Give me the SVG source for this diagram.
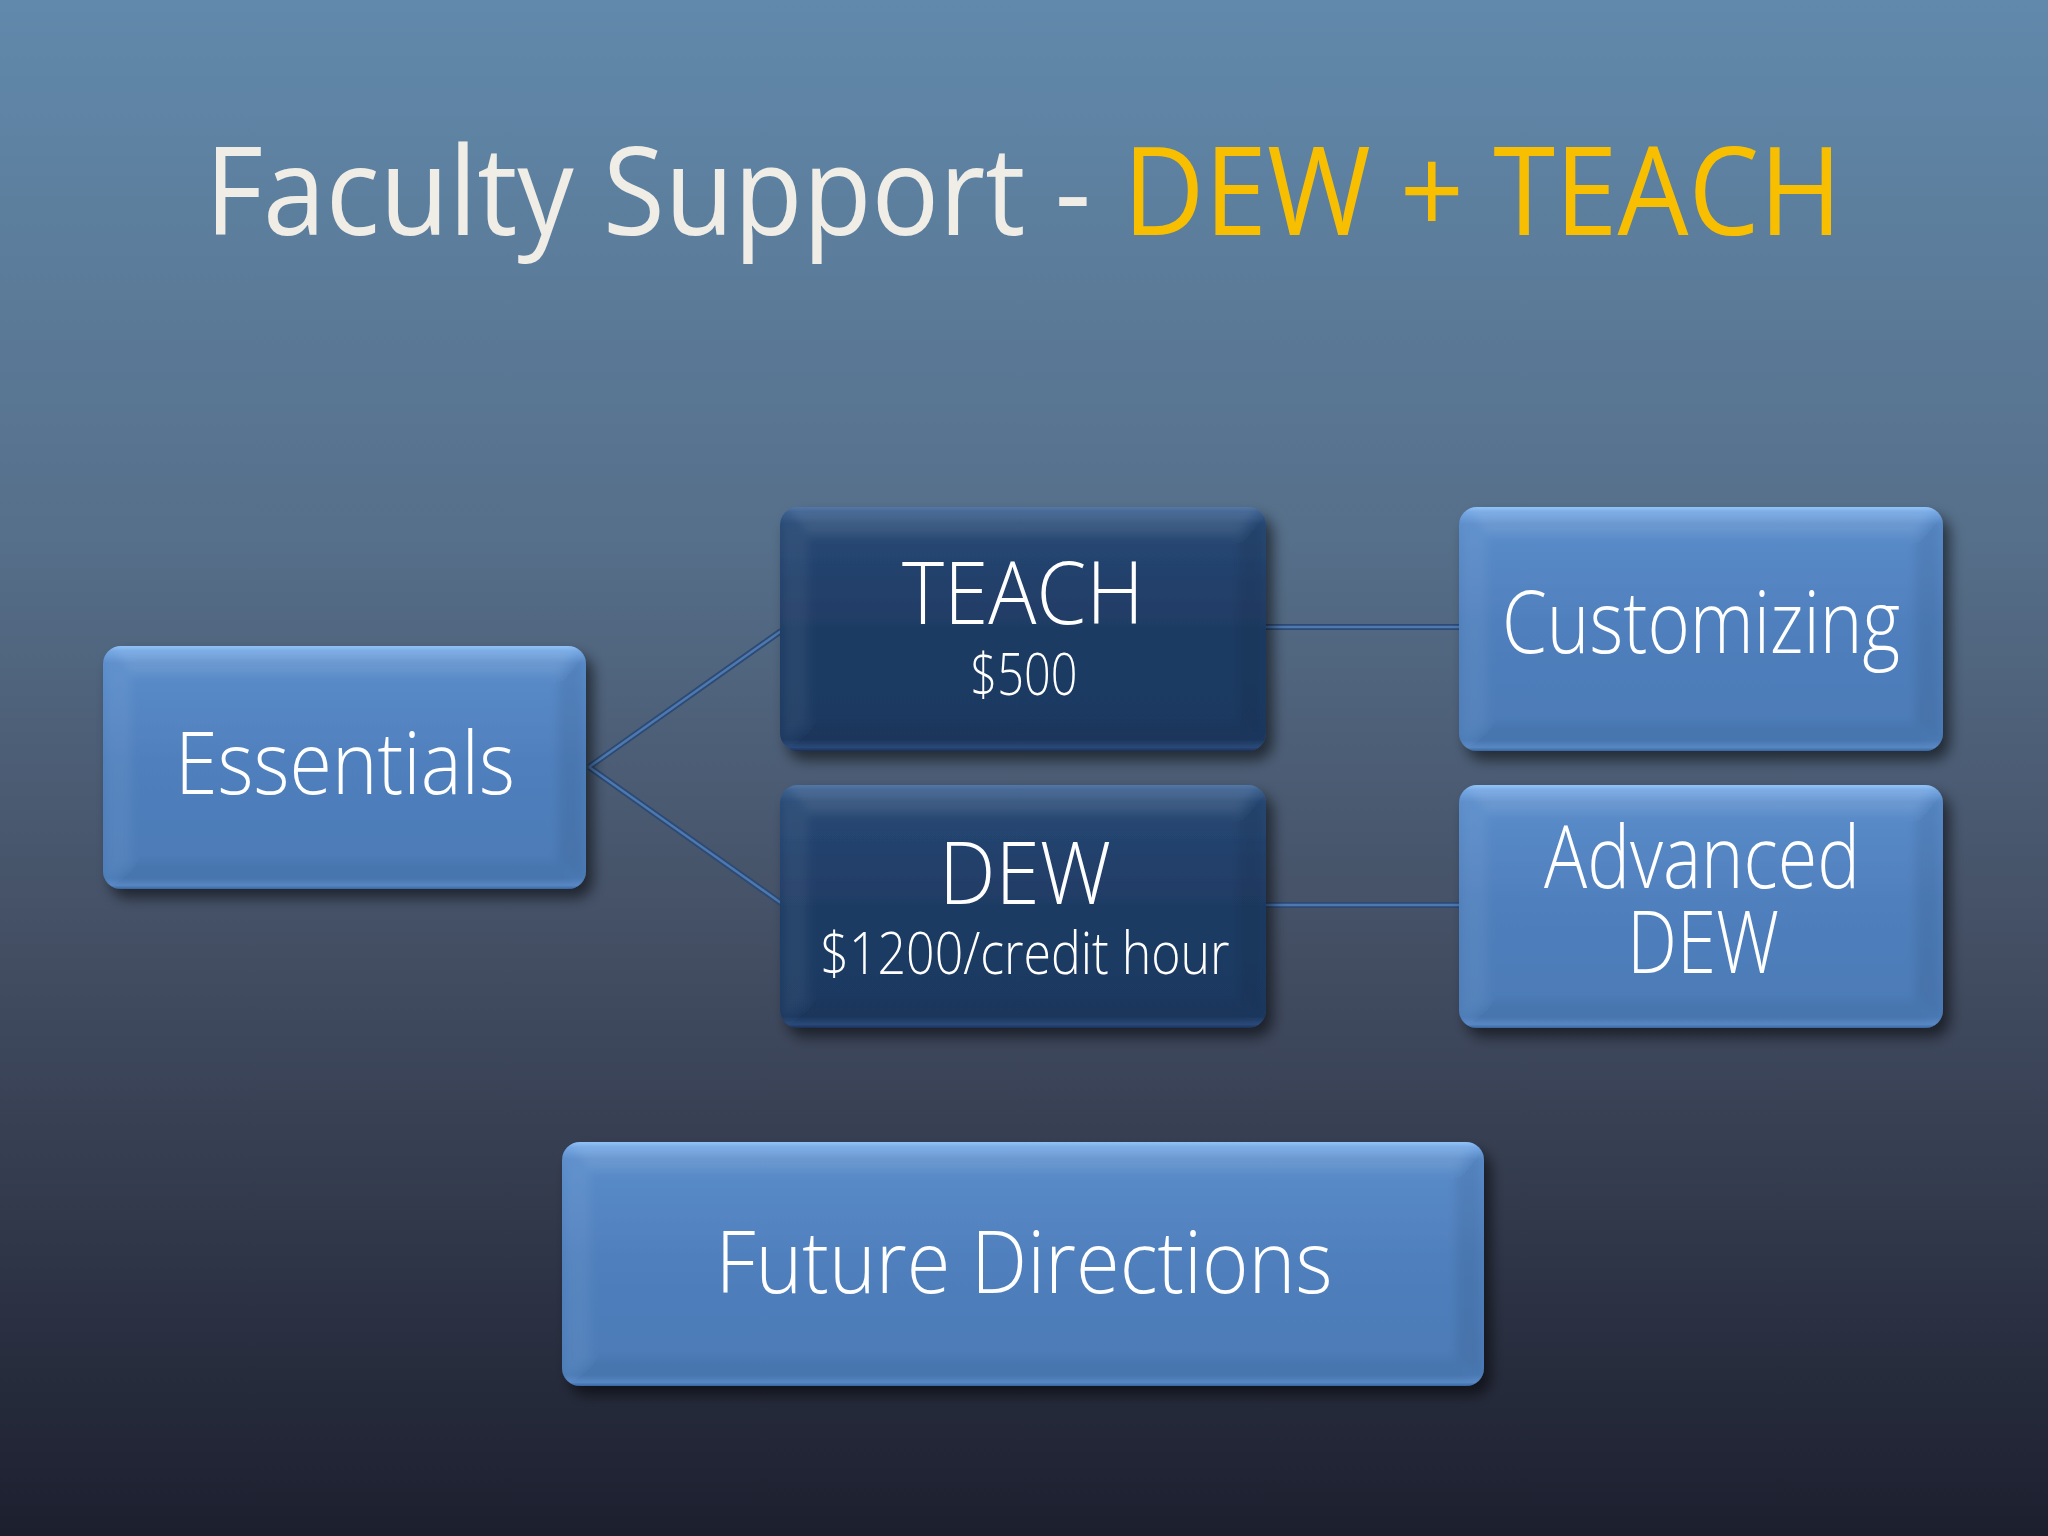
<svg xmlns="http://www.w3.org/2000/svg" width="2048" height="1536" viewBox="0 0 2048 1536">
<defs>
<linearGradient id="bg" x1="0" y1="0" x2="0" y2="1">
<stop offset="0" stop-color="#6189AB"/>
<stop offset="0.35" stop-color="#566F8A"/>
<stop offset="0.62" stop-color="#434E63"/>
<stop offset="1" stop-color="#1C1F2E"/>
</linearGradient>
<linearGradient id="light" x1="0" y1="0" x2="0" y2="1">
<stop offset="0" stop-color="#8FC2F7"/>
<stop offset="0.02" stop-color="#74A7E4"/>
<stop offset="0.07" stop-color="#5A8CCA"/>
<stop offset="0.5" stop-color="#4F7FBC"/>
<stop offset="0.955" stop-color="#4C7BB7"/>
<stop offset="0.985" stop-color="#5A8BC8"/>
<stop offset="1" stop-color="#3A68A2"/>
</linearGradient>
<linearGradient id="dark" x1="0" y1="0" x2="0" y2="1">
<stop offset="0" stop-color="#4E74A4"/>
<stop offset="0.02" stop-color="#3A5F8E"/>
<stop offset="0.07" stop-color="#274874"/>
<stop offset="0.5" stop-color="#1F3B64"/>
<stop offset="0.955" stop-color="#1E3961"/>
<stop offset="0.985" stop-color="#2A4B7C"/>
<stop offset="1" stop-color="#1A3158"/>
</linearGradient>
<filter id="shadow" x="-10%" y="-10%" width="125%" height="130%">
<feDropShadow dx="7" dy="9" stdDeviation="7" flood-color="#000000" flood-opacity="0.55"/>
</filter>
<filter id="soft" x="-5%" y="-5%" width="110%" height="110%">
<feGaussianBlur stdDeviation="5"/>
</filter>
<clipPath id="cEss"><rect x="103" y="646" width="483" height="243" rx="18"/></clipPath>
<clipPath id="cTeach"><rect x="780" y="507" width="486" height="244" rx="18"/></clipPath>
<clipPath id="cDew"><rect x="780" y="785" width="486" height="243" rx="18"/></clipPath>
<clipPath id="cCust"><rect x="1459" y="507" width="484" height="244" rx="18"/></clipPath>
<clipPath id="cAdv"><rect x="1459" y="785" width="484" height="243" rx="18"/></clipPath>
<clipPath id="cFut"><rect x="562" y="1142" width="922" height="244" rx="18"/></clipPath>
<style>
.lbl{font-family:"Open Sans","Lato","Liberation Sans",sans-serif;font-weight:300;fill:#FFFFFF;text-anchor:middle}
.big{font-size:86px}
.sub{font-size:58px}
.title{font-family:"Open Sans","Lato","Liberation Sans",sans-serif;font-weight:400;font-size:122px}
.connO{stroke:#2C4A74;stroke-width:6;fill:none}
.connI{stroke:#4D79B0;stroke-width:2.5;fill:none}
.bt{fill:#FFFFFF;fill-opacity:0.10}
.bl{fill:#FFFFFF;fill-opacity:0.05}
.br{fill:#000000;fill-opacity:0.07}
.bb{fill:#000000;fill-opacity:0.05}
</style>
</defs>
<rect x="0" y="0" width="2048" height="1536" fill="url(#bg)"/>

<g id="title">
<text class="title" x="205" y="235" fill="#EFEDE6" textLength="886" lengthAdjust="spacingAndGlyphs">Faculty Support -</text>
<text class="title" x="1123" y="235" fill="#F8BF00" textLength="719" lengthAdjust="spacingAndGlyphs">DEW + TEACH</text>
</g>

<g id="connectors">
<line class="connO" x1="589" y1="767" x2="781" y2="631"/>
<line class="connO" x1="589" y1="767" x2="781" y2="903"/>
<line class="connO" x1="1264" y1="627" x2="1461" y2="627"/>
<line class="connO" x1="1264" y1="905" x2="1461" y2="905"/>
<line class="connI" x1="589" y1="767" x2="781" y2="631"/>
<line class="connI" x1="589" y1="767" x2="781" y2="903"/>
<line class="connI" x1="1264" y1="627" x2="1461" y2="627"/>
<line class="connI" x1="1264" y1="905" x2="1461" y2="905"/>
</g>

<g id="essentials">
<rect x="103" y="646" width="483" height="243" rx="18" fill="url(#light)" filter="url(#shadow)"/>
<g clip-path="url(#cEss)"><g filter="url(#soft)">
<path class="bt" d="M111,649 L578,649 L558,674 L131,674 Z"/>
<path class="bl" d="M106,654 L131,674 L131,861 L106,881 Z"/>
<path class="br" d="M583,654 L558,674 L558,861 L583,881 Z"/>
<path class="bb" d="M111,886 L131,861 L558,861 L578,886 Z"/>
</g></g>
<text class="lbl big" x="345" y="794" textLength="340" lengthAdjust="spacingAndGlyphs">Essentials</text>
</g>

<g id="teach">
<rect x="780" y="507" width="486" height="244" rx="18" fill="url(#dark)" filter="url(#shadow)"/>
<g clip-path="url(#cTeach)"><g filter="url(#soft)">
<path class="bt" d="M788,510 L1258,510 L1238,535 L808,535 Z"/>
<path class="bl" d="M783,515 L808,535 L808,723 L783,743 Z"/>
<path class="br" d="M1263,515 L1238,535 L1238,723 L1263,743 Z"/>
<path class="bb" d="M788,748 L808,723 L1238,723 L1258,748 Z"/>
</g></g>
<text class="lbl"><tspan class="big" x="1023" y="624" textLength="242" lengthAdjust="spacingAndGlyphs">TEACH</tspan><tspan class="sub" x="1024" y="695" textLength="107" lengthAdjust="spacingAndGlyphs">$500</tspan></text>
</g>

<g id="dew">
<rect x="780" y="785" width="486" height="243" rx="18" fill="url(#dark)" filter="url(#shadow)"/>
<g clip-path="url(#cDew)"><g filter="url(#soft)">
<path class="bt" d="M788,788 L1258,788 L1238,813 L808,813 Z"/>
<path class="bl" d="M783,793 L808,813 L808,1000 L783,1020 Z"/>
<path class="br" d="M1263,793 L1238,813 L1238,1000 L1263,1020 Z"/>
<path class="bb" d="M788,1025 L808,1000 L1238,1000 L1258,1025 Z"/>
</g></g>
<text class="lbl"><tspan class="big" x="1025" y="904" textLength="172" lengthAdjust="spacingAndGlyphs">DEW</tspan><tspan class="sub" x="1025" y="974" textLength="409" lengthAdjust="spacingAndGlyphs">$1200/credit hour</tspan></text>
</g>

<g id="customizing">
<rect x="1459" y="507" width="484" height="244" rx="18" fill="url(#light)" filter="url(#shadow)"/>
<g clip-path="url(#cCust)"><g filter="url(#soft)">
<path class="bt" d="M1467,510 L1935,510 L1915,535 L1487,535 Z"/>
<path class="bl" d="M1462,515 L1487,535 L1487,723 L1462,743 Z"/>
<path class="br" d="M1940,515 L1915,535 L1915,723 L1940,743 Z"/>
<path class="bb" d="M1467,748 L1487,723 L1915,723 L1935,748 Z"/>
</g></g>
<text class="lbl big" x="1701" y="653" textLength="398" lengthAdjust="spacingAndGlyphs">Customizing</text>
</g>

<g id="advanced-dew">
<rect x="1459" y="785" width="484" height="243" rx="18" fill="url(#light)" filter="url(#shadow)"/>
<g clip-path="url(#cAdv)"><g filter="url(#soft)">
<path class="bt" d="M1467,788 L1935,788 L1915,813 L1487,813 Z"/>
<path class="bl" d="M1462,793 L1487,813 L1487,1000 L1462,1020 Z"/>
<path class="br" d="M1940,793 L1915,813 L1915,1000 L1940,1020 Z"/>
<path class="bb" d="M1467,1025 L1487,1000 L1915,1000 L1935,1025 Z"/>
</g></g>
<text class="lbl big"><tspan x="1702" y="888" textLength="316" lengthAdjust="spacingAndGlyphs">Advanced</tspan><tspan x="1703" y="973" textLength="152" lengthAdjust="spacingAndGlyphs">DEW</tspan></text>
</g>

<g id="future-directions">
<rect x="562" y="1142" width="922" height="244" rx="18" fill="url(#light)" filter="url(#shadow)"/>
<g clip-path="url(#cFut)"><g filter="url(#soft)">
<path class="bt" d="M570,1145 L1476,1145 L1456,1170 L590,1170 Z"/>
<path class="bl" d="M565,1150 L590,1170 L590,1358 L565,1378 Z"/>
<path class="br" d="M1481,1150 L1456,1170 L1456,1358 L1481,1378 Z"/>
<path class="bb" d="M570,1383 L590,1358 L1456,1358 L1476,1383 Z"/>
</g></g>
<text class="lbl big" x="1024" y="1293" textLength="617" lengthAdjust="spacingAndGlyphs">Future Directions</text>
</g>
</svg>
